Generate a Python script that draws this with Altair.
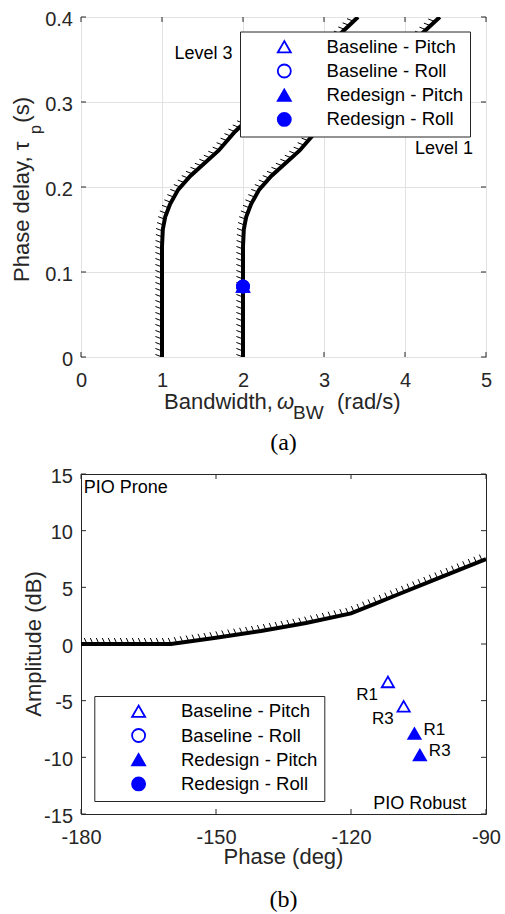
import numpy as np
import pandas as pd
import altair as alt

# ---------------- data: panel (a) ----------------
series = ["Baseline - Pitch", "Baseline - Roll", "Redesign - Pitch", "Redesign - Roll"]
series_shapes = ["triangle-up", "circle", "triangle-up", "circle"]
series_fills = ["transparent", "transparent", "blue", "blue"]
series_strokes = ["blue", "blue", "blue", "blue"]

lvl3_bw = [1.0, 1.0, 1.0, 1.01, 1.04, 1.1, 1.2, 1.35, 1.5, 1.7, 1.9, 2.2, 2.6, 3.0, 3.42]
lvl3_tau = [0.0, 0.10, 0.13, 0.15, 0.165, 0.18, 0.197, 0.213, 0.226, 0.243, 0.265, 0.292, 0.326, 0.362, 0.40]
lvl1_bw = [2.0, 2.0, 2.0, 2.01, 2.04, 2.1, 2.2, 2.35, 2.5, 2.7, 2.9, 3.2, 3.6, 4.0, 4.43]
lvl1_tau = [0.0, 0.10, 0.13, 0.15, 0.165, 0.18, 0.197, 0.213, 0.226, 0.243, 0.265, 0.292, 0.326, 0.362, 0.40]

a_pt_series = ["Baseline - Pitch", "Baseline - Roll", "Redesign - Pitch", "Redesign - Roll"]
a_pt_bw = [2.0, 2.0, 2.0, 2.0]
a_pt_tau = [0.083, 0.083, 0.083, 0.083]

a_xticks = [0, 1, 2, 3, 4, 5]
a_yticks = [0, 0.1, 0.2, 0.3, 0.4]
a_ann_text = ["Level 3", "Level 1"]
a_ann_bw = [1.87, 4.84]
a_ann_tau = [0.357, 0.245]
a_xtitle = ["Bandwidth,", "ω", "BW", "(rad/s)"]
a_ytitle = ["Phase delay, τ", "p", "(s)"]
a_caption = "(a)"

# ---------------- data: panel (b) ----------------
b_phase = [-180, -160, -150, -140, -130, -120, -115, -110, -100, -90]
b_amp = [0, 0, 0.55, 1.15, 1.85, 2.7, 3.5, 4.3, 5.9, 7.5]

b_pt_series = ["Baseline - Pitch", "Baseline - Pitch", "Redesign - Pitch", "Redesign - Pitch"]
b_pt_phase = [-111.8, -108.3, -105.9, -104.7]
b_pt_amp = [-3.35, -5.5, -7.9, -9.8]
b_pt_label = ["R1", "R3", "R1", "R3"]

b_xticks = [-180, -150, -120, -90]
b_yticks = [-15, -10, -5, 0, 5, 10, 15]
b_ann_text = ["PIO Prone", "PIO Robust"]
b_ann_phase = [-179.4, -94.4]
b_ann_amp = [13.8, -14.1]
b_xtitle = "Phase (deg)"
b_ytitle = "Amplitude (dB)"
b_caption = "(b)"

# ---------------- style ----------------
W, H = 405, 340
FONT = "Liberation Sans"
SERIF = "Liberation Serif"
INK = "#262626"
ONE = pd.DataFrame({"k": [0]})


def txt(s, x, y, size=22, align="left", angle=0, font=FONT, style="normal", color=INK):
    kw = dict(text=s, align=align, baseline="alphabetic", font=font, fontSize=size,
              color=color, fontStyle=style)
    if angle:
        kw["angle"] = angle
    return alt.Chart(ONE).mark_text(**kw).encode(x=alt.value(x), y=alt.value(y))


def hatch_df(curves, sx, sy, step):
    rows = []
    for xs, ys in curves:
        xs = np.asarray(xs, float)
        ys = np.asarray(ys, float)
        seg = np.hypot(np.diff(xs) * sx, np.diff(ys) * sy)
        cum = np.concatenate([[0.0], np.cumsum(seg)])
        s = np.arange(0.0, cum[-1] + 1e-6, step)
        rows.append(pd.DataFrame({"x": np.interp(s, cum, xs), "y": np.interp(s, cum, ys)}))
    return pd.concat(rows, ignore_index=True)


def panel(xdom, ydom, xticks, yticks, grid, curves, hatch_path, pts, legend_xy):
    xsc = alt.Scale(domain=xdom, nice=False, zero=False)
    ysc = alt.Scale(domain=ydom, nice=False, zero=False)
    xax = alt.Axis(values=xticks, title=None, domain=False, ticks=False, tickSize=0,
                   labelFont=FONT, labelFontSize=20, labelColor=INK, labelPadding=13.5,
                   labelExpr="'' + datum.value", labelFlush=False, labelOverlap=False,
                   grid=grid, gridColor="#e2e2e2", gridWidth=1)
    yax = alt.Axis(values=yticks, title=None, domain=False, ticks=False, tickSize=0,
                   labelFont=FONT, labelFontSize=20, labelColor=INK, labelPadding=8.5,
                   labelOffset=2, labelExpr="'' + datum.value", labelFlush=False,
                   labelOverlap=False, grid=grid, gridColor="#e2e2e2", gridWidth=1)

    def X(f):
        return alt.X(f"{f}:Q", scale=xsc, axis=xax)

    def Y(f):
        return alt.Y(f"{f}:Q", scale=ysc, axis=yax)

    line_rows = []
    for ci, (xs, ys) in enumerate(curves):
        line_rows.append(pd.DataFrame({"x": xs, "y": ys, "curve": ci, "i": range(len(xs))}))
    line_df = pd.concat(line_rows, ignore_index=True)

    sx = W / (xdom[1] - xdom[0])
    sy = H / (ydom[1] - ydom[0])
    hdf = hatch_df(curves, sx, sy, 6.0)

    lines = alt.Chart(line_df).mark_line(color="black", strokeWidth=4, clip=True).encode(
        x=X("x"), y=Y("y"), detail="curve:N", order="i:Q")
    hatches = alt.Chart(hdf).mark_point(shape=hatch_path, size=36, filled=False, stroke="black",
                                        strokeWidth=1, opacity=1, clip=True).encode(
        x=X("x"), y=Y("y"))

    leg = alt.Legend(orient="none", legendX=legend_xy[0], legendY=legend_xy[1], title=None,
                     labelFont=FONT, labelFontSize=18.6, labelColor="black", labelLimit=400,
                     symbolSize=170, symbolStrokeWidth=1.8,
                     strokeColor=INK, fillColor="white", padding=6, rowPadding=4.2,
                     symbolOffset=29, labelOffset=33)
    points = alt.Chart(pts).mark_point(filled=True, size=150, strokeWidth=1.8, opacity=1).encode(
        x=X("x"), y=Y("y"),
        shape=alt.Shape("series:N", scale=alt.Scale(domain=series, range=series_shapes), legend=leg),
        fill=alt.Fill("series:N", scale=alt.Scale(domain=series, range=series_fills), legend=leg),
        stroke=alt.Stroke("series:N", scale=alt.Scale(domain=series, range=series_strokes), legend=leg),
    )

    xt = pd.DataFrame({"v": xticks})
    yt = pd.DataFrame({"v": yticks})
    tick_style = dict(color=INK, strokeWidth=1)
    ticks = [
        alt.Chart(xt).mark_rule(**tick_style).encode(x=X("v"), y=alt.value(H), y2=alt.value(H - 5)),
        alt.Chart(xt).mark_rule(**tick_style).encode(x=X("v"), y=alt.value(0), y2=alt.value(5)),
        alt.Chart(yt).mark_rule(**tick_style).encode(y=Y("v"), x=alt.value(0), x2=alt.value(5)),
        alt.Chart(yt).mark_rule(**tick_style).encode(y=Y("v"), x=alt.value(W), x2=alt.value(W - 5)),
    ]
    return X, Y, lines, hatches, points, ticks


# ---------------- panel (a) ----------------
a_pts = pd.DataFrame({"x": a_pt_bw, "y": a_pt_tau, "series": a_pt_series})
Xa, Ya, a_lines, a_hatch, a_points, a_ticks = panel(
    [0, 5], [0, 0.4], a_xticks, a_yticks, True,
    [(lvl3_bw, lvl3_tau), (lvl1_bw, lvl1_tau)], "M0,0L-2.2,-0.85", a_pts, (159, 14.5))

a_ann = pd.DataFrame({"x": a_ann_bw, "y": a_ann_tau, "t": a_ann_text})
a_text = alt.Chart(a_ann).mark_text(font=FONT, fontSize=18, color="black", align="right",
                                    baseline="middle").encode(x=Xa("x"), y=Ya("y"), text="t:N")

a_titles = [
    txt(a_xtitle[0], 83, 392.3),
    txt(a_xtitle[1], 196, 392.3, style="italic"),
    txt(a_xtitle[2], 212, 401.5, size=19),
    txt(a_xtitle[3], 256, 392.3),
    txt(a_ytitle[0], -51.7, 265, angle=270),
    txt(a_ytitle[1], -40, 117, size=16, angle=270),
    txt(a_ytitle[2], -51.7, 80, align="right", angle=270),
    txt(a_caption, W / 2, 432.7, size=24, align="center", font=SERIF, color="black"),
]

chart_a = alt.layer(*a_ticks, a_lines, a_hatch, a_text, a_points, *a_titles).properties(
    width=W, height=H)

# ---------------- panel (b) ----------------
b_pts = pd.DataFrame({"x": b_pt_phase, "y": b_pt_amp, "series": b_pt_series, "lab": b_pt_label})
Xb, Yb, b_lines, b_hatch, b_points, b_ticks = panel(
    [-180, -90], [-15, 15], b_xticks, b_yticks, False,
    [(b_phase, b_amp)], "M0,0L-0.9,-2", b_pts, (13.3, 222))

b_ann = pd.DataFrame({"x": b_ann_phase, "y": b_ann_amp, "t": b_ann_text})
b_text_l = alt.Chart(b_ann.iloc[[0]]).mark_text(font=FONT, fontSize=18, color="black", align="left",
                                                baseline="middle").encode(x=Xb("x"), y=Yb("y"), text="t:N")
b_text_r = alt.Chart(b_ann.iloc[[1]]).mark_text(font=FONT, fontSize=18, color="black", align="right",
                                                baseline="middle").encode(x=Xb("x"), y=Yb("y"), text="t:N")

base_lab = b_pts[b_pts["series"] == "Baseline - Pitch"]
red_lab = b_pts[b_pts["series"] == "Redesign - Pitch"]
b_lab1 = alt.Chart(base_lab).mark_text(font=FONT, fontSize=17, color="black", align="right",
                                       baseline="middle", dx=-10, dy=13).encode(
    x=Xb("x"), y=Yb("y"), text="lab:N")
b_lab2 = alt.Chart(red_lab).mark_text(font=FONT, fontSize=17, color="black", align="left",
                                      baseline="middle", dx=9, dy=-4).encode(
    x=Xb("x"), y=Yb("y"), text="lab:N")

b_titles = [
    txt(b_xtitle, W / 2, 390, align="center"),
    txt(b_ytitle, -40.2, H / 2, align="center", angle=270),
    txt(b_caption, W / 2, 433, size=24, align="center", font=SERIF, color="black"),
]

chart_b = alt.layer(*b_ticks, b_lines, b_hatch, b_text_l, b_text_r, b_points, b_lab1, b_lab2,
                    *b_titles).properties(width=W, height=H)

chart = alt.vconcat(chart_a, chart_b, spacing=9).resolve_scale(
    shape="independent", fill="independent", stroke="independent").resolve_legend(
    shape="independent", fill="independent", stroke="independent").properties(
    padding={"left": 10, "top": 8, "right": 0, "bottom": 0}, background="white"
).configure_view(stroke=INK, strokeWidth=1)

chart.save("out.html", embed_options={"renderer": "svg", "actions": False})
